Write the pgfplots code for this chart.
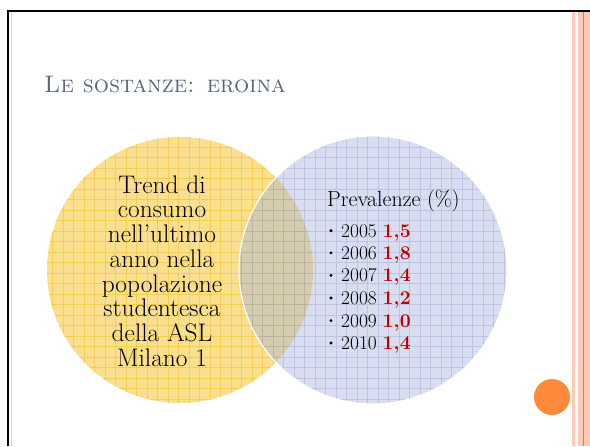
\documentclass[border=0pt]{standalone}
\usepackage{fontspec}
\usepackage{pgfplots}
\pgfplotsset{compat=1.18}
\definecolor{SunYellow}{HTML}{FADF8E}
\definecolor{SunGrid}{HTML}{F5CD52}
\definecolor{SkyBlue}{HTML}{A3B0DA}
\definecolor{SkyGrid}{HTML}{8E99D0}
\definecolor{TitleGray}{HTML}{5B6579}
\definecolor{ValueRed}{HTML}{C00000}
\definecolor{BandPink}{HTML}{FCC9B6}
\definecolor{BandOrange}{HTML}{F07A30}
\definecolor{DotOrange}{HTML}{FF8A3C}

\begin{document}
\begin{tikzpicture}
\begin{axis}[
    width=590bp, height=446bp, scale only axis,
    xmin=0, xmax=590, ymin=0, ymax=446, y dir=reverse,
    hide axis, clip=false,
]
% slide background and frame
\fill[white] (axis cs:0,0) rectangle (axis cs:590,446);
\fill[black] (axis cs:7,10) rectangle (axis cs:590,12);
\fill[black] (axis cs:7,10) rectangle (axis cs:9,446);
\fill[BandPink] (axis cs:10.5,12) rectangle (axis cs:12,446);
\fill[BandPink] (axis cs:572,12) rectangle (axis cs:575,446);
\fill[BandPink] (axis cs:578,12) rectangle (axis cs:590,446);
\fill[BandOrange] (axis cs:582.5,12) rectangle (axis cs:583.5,446);
\fill[DotOrange] (axis cs:552,397) circle[radius=18bp];

% title
\node[anchor=base west, inner sep=0pt, text=TitleGray, font=\fontsize{24}{26}\selectfont]
    at (axis cs:44,92) {\textsc{Le sostanze: eroina}};

% yellow circle
\fill[SunYellow] (axis cs:180,270) circle[radius=133bp];
\begin{scope}
  \clip (axis cs:180,270) circle[radius=133bp];
  \draw[SunGrid, line width=0.55bp, step=10.5bp] (axis cs:40,130) grid (axis cs:320,410);
\end{scope}

% blue circle
\fill[SkyBlue, fill opacity=0.42] (axis cs:373,270) circle[radius=134bp];
\begin{scope}
  \clip (axis cs:373,270) circle[radius=134bp];
  \draw[SkyGrid, opacity=0.35, line width=0.6bp, step=10.5bp] (axis cs:230,130) grid (axis cs:510,410);
\end{scope}
\draw[white, line width=1.2bp] (axis cs:373,270) circle[radius=134bp];

% left text
\node[align=center, inner sep=0pt, font=\fontsize{25.5}{24.8}\selectfont]
    at (axis cs:162,271) {Trend di\\consumo\\nell'ultimo\\anno nella\\popolazione\\studentesca\\della ASL\\Milano 1};

% right list
\node[anchor=west, inner sep=0pt, font=\fontsize{22}{24}\selectfont]
    at (axis cs:327,201) {Prevalenze (\%)};

\addplot[only marks, mark=*, mark size=1.3bp, black,
    nodes near coords, point meta=explicit symbolic,
    nodes near coords style={anchor=base west, inner sep=0pt, xshift=10bp, yshift=-6.5bp,
        font=\fontsize{19.5}{22}\selectfont, text=black}]
coordinates {
    (331,230.7) [{2005 \textcolor{ValueRed}{\textbf{1,5}}}]
    (331,252.9) [{2006 \textcolor{ValueRed}{\textbf{1,8}}}]
    (331,275.4) [{2007 \textcolor{ValueRed}{\textbf{1,4}}}]
    (331,298.0) [{2008 \textcolor{ValueRed}{\textbf{1,2}}}]
    (331,320.6) [{2009 \textcolor{ValueRed}{\textbf{1,0}}}]
    (331,343.0) [{2010 \textcolor{ValueRed}{\textbf{1,4}}}]
};
\end{axis}
\pgfresetboundingbox
\path[use as bounding box] (current axis.south west) rectangle (current axis.north east);
\end{tikzpicture}
\end{document}
